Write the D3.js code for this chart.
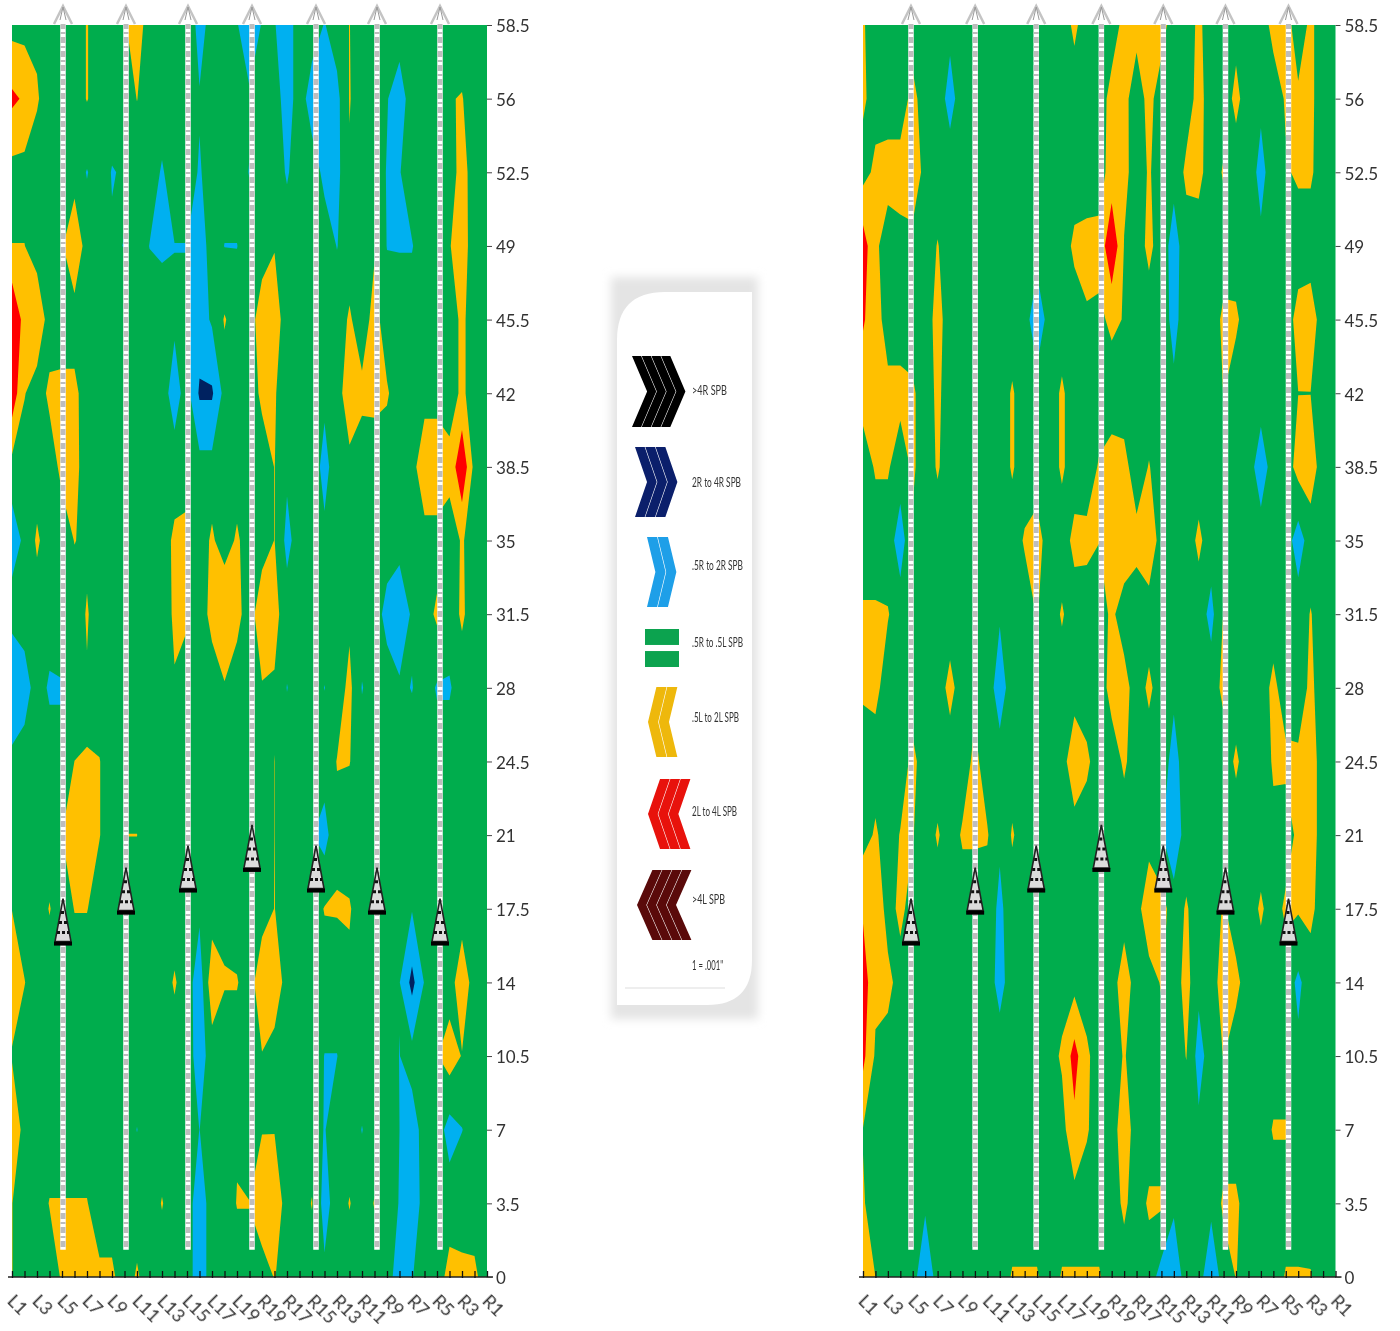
<!DOCTYPE html>
<html><head><meta charset="utf-8">
<script src="https://cdn.jsdelivr.net/npm/d3@7/dist/d3.min.js"></script>
<style>html,body{margin:0;padding:0;background:#fff}svg{display:block}text{font-family:Lato,"Open Sans",sans-serif}</style>
</head><body><svg id="c" width="1400" height="1331"></svg>
<script>
// Row labels (depth) and column labels
const depthLabels = ["58.5","56","52.5","49","45.5","42","38.5","35","31.5","28","24.5","21","17.5","14","10.5","7","3.5","0"];
const leftSide = ["L1","L2","L3","L4","L5","L6","L7","L8","L9","L10","L11","L12","L13","L14","L15","L16","L17","L18","L19"];
const rightSide = ["R19","R18","R17","R16","R15","R14","R13","R12","R11","R10","R9","R8","R7","R6","R5","R4","R3","R2","R1"];
const columnLabels = [...leftSide,"C",...rightSide];

// Readings, [column index, SPB value]; + = left, - = right; unlisted cells are near 0
const leftRows = [
[[2,.3],[6,.55],[9,.4],[10,1],[14,.51],[15,-1],[18,-.4],[19,-1.5],[20,-.4],[21,-.45],[22,-1],[25,-.55],[27,.52]],
[[0,2.3],[1,1.8],[2,.6],[4,.53],[6,.55],[10,.52],[15,-.4],[19,-.3],[22,-1],[24,-1],[25,-1.2],[26,-.8],[27,.55],[30,-.45],[31,-1],[35,.45],[36,.55]],
[[6,-.55],[8,-.55],[9,-.4],[12,-.6],[15,-.6],[19,-.55],[22,-.6],[25,-.75],[26,-.8],[27,.4],[30,-.55],[31,-.55],[36,.9]],
[[0,.52],[1,.52],[4,.4],[5,1.4],[8,-.4],[9,-.52],[11,-.52],[12,-.56],[13,-.52],[14,-.52],[15,-1.1],[17,-.52],[18,-.52],[21,.45],[26,-.53],[29,.4],[30,-.53],[31,-.55],[32,-.55],[35,.45],[36,.95]],
[[0,3.5],[1,1.4],[2,1.35],[12,-.3],[13,-.3],[14,-.3],[15,-1.2],[16,-.3],[17,.58],[20,1.1],[21,1],[27,.62],[29,.85],[36,.7]],
[[0,3],[1,.55],[3,.7],[4,.75],[5,.75],[13,-1],[15,-2.2],[16,-2.2],[20,.7],[21,.58],[25,-.3],[27,1.2],[28,.72],[29,.75],[30,.6],[36,.7]],
[[4,.76],[5,.8],[14,.2],[21,.52],[22,-.3],[25,-.8],[27,.2],[33,1.45],[34,1.45],[35,.85],[36,3.3]],
[[0,-1],[1,-.3],[2,.65],[5,.53],[6,.3],[13,.7],[14,.7],[16,.65],[18,.65],[21,.52],[22,-.8],[25,-.3],[36,.6]],
[[4,.55],[6,.58],[13,.65],[14,.65],[16,.8],[17,1.5],[18,.8],[20,1.25],[21,.8],[27,.31],[30,-.85],[31,-1.5],[32,-.3],[34,.7],[36,.65]],
[[0,-1.9],[1,-1],[3,-.65],[4,-.65],[6,.42],[13,.43],[17,.4],[20,.42],[21,.4],[22,-.53],[25,-.52],[27,.75],[28,-.55],[31,-.3],[32,-.54],[34,-.6],[35,-.6]],
[[0,-.1],[5,.505],[6,.52],[7,.53],[21,.51],[26,.53],[27,.53]],
[[4,.502],[5,.505],[6,.55],[7,.53],[9,.51],[10,.51],[21,.51],[24,-.45],[25,-.9],[26,.3]],
[[0,.48],[3,.55],[5,.53],[6,.53],[7,.1],[15,-.3],[17,.3],[21,.52],[25,.55],[26,.57],[27,.58],[32,-.42]],
[[0,1.2],[1,.53],[4,.55],[13,.6],[15,-1.1],[16,1.2],[17,.56],[18,.56],[20,1.3],[21,1.3],[27,.3],[31,-.45],[32,-2.44],[33,-.4],[36,1.2]],
[[0,.4],[11,-.45],[15,-1],[20,.45],[25,-.52],[26,-.52],[31,-.52],[34,.45],[35,1],[36,.45]],
[[0,1.6],[10,-.52],[15,-.51],[18,.4],[19,-.52],[20,.45],[21,.45],[25,-.55],[28,-.53],[31,-.5],[32,-1.1],[35,-.9],[36,-.53]],
[[0,.52],[3,.54],[4,.54],[5,.54],[6,.54],[12,.55],[15,-1.1],[18,.54],[19,.54],[20,1.2],[21,1.3],[24,.55],[25,-.9],[27,.55],[29,.55],[31,-.55],[32,-1.3],[36,.3]],
[[0,.52],[4,.6],[5,.6],[6,.68],[7,.68],[8,.68],[10,.62],[15,-1.1],[21,.55],[25,-.3],[31,-1.1],[32,-.55],[35,.85],[36,.6],[37,.7]]
];
const rightRows = [
[[0,.6],[7,-.25],[17,.7],[21,.8],[22,.8],[23,.8],[24,.9],[27,.7],[30,.2],[33,.8],[34,.9],[36,.7]],
[[0,.7],[4,.8],[7,-.85],[20,.85],[21,.78],[23,.8],[27,.85],[30,.75],[32,-.3],[34,.6],[35,.66],[36,.7]],
[[1,.8],[2,.9],[3,.9],[4,1.5],[20,1],[21,.8],[23,.6],[25,-.2],[26,.72],[27,.78],[29,.6],[32,-.8],[34,.4],[35,.64],[36,.64]],
[[0,2.8],[1,.7],[3,.2],[6,.55],[17,.7],[18,.8],[19,.85],[20,3.4],[21,.45],[23,.75],[25,-.9],[32,-.3]],
[[0,2.2],[1,1],[6,.85],[14,-1.3],[18,.4],[19,.3],[20,.7],[21,.45],[25,-.8],[29,.7],[30,.66],[35,.85],[36,1]],
[[0,.9],[1,1],[2,.8],[3,.8],[4,.65],[6,.7],[12,.6],[16,.65],[25,-.3],[29,.52],[35,.49],[36,.49]],
[[1,.6],[2,.6],[4,.65],[6,.6],[12,.6],[16,.65],[19,.6],[20,.9],[21,.8],[23,.55],[29,.4],[32,-1.1],[35,.85],[36,1]],
[[3,-1],[4,.35],[13,.6],[14,.9],[17,.78],[18,.75],[19,.52],[20,1.4],[21,1.2],[22,.78],[23,1.3],[27,.7],[35,-1]],
[[0,.62],[1,.62],[2,.56],[11,-.4],[14,.55],[16,.6],[20,.7],[28,-.8],[29,.55],[36,.55]],
[[0,.65],[1,.78],[7,.8],[9,.3],[11,-1],[20,.85],[21,.9],[23,.7],[25,-.3],[29,.75],[33,.75],[36,.7]],
[[4,.75],[9,.75],[11,-.1],[17,1.3],[18,.68],[21,.65],[25,-.85],[30,.65],[33,.6],[34,.72],[35,.67],[36,1]],
[[1,.65],[3,.55],[4,.55],[6,.6],[8,.62],[9,.62],[10,.58],[11,-.35],[12,.6],[24,-.4],[25,-1.25],[33,.3],[35,.75],[36,1]],
[[0,1.8],[1,1.5],[3,.8],[11,-.7],[23,1.4],[24,.9],[26,.6],[29,.6],[32,.65],[34,.7],[35,.6],[36,.75]],
[[0,2.8],[1,.85],[2,.85],[11,-.85],[21,1.1],[24,.6],[26,.85],[27,-.25],[29,1],[30,.75],[35,-.7]],
[[0,2.4],[1,.3],[16,.68],[17,2.6],[18,.68],[21,.58],[26,.53],[27,-.9],[29,.53],[35,-.3]],
[[0,.45],[9,.4],[17,1.6],[18,.6],[21,1.1],[27,-.3],[33,.58],[34,.58]],
[[0,.6],[5,-.3],[9,.55],[21,.7],[23,.65],[24,.65],[25,-.3],[28,-.2],[29,.68],[30,.68]],
[[0,1.1],[1,.5],[5,-1.5],[12,.58],[13,.58],[14,.58],[16,.58],[17,.58],[18,.58],[19,.58],[24,-.9],[25,-1.3],[28,-1.4],[30,.53],[34,.58],[35,.58],[36,.56]]
];
// Contour bands
const leftwardBands = [[.5,"#FFC000"],[2,"#FF0000"],[4,"#7F0000"]];
const rightwardBands = [[.5,"#00B0F0"],[2,"#002060"],[4,"#000000"]];
const fieldColor = "#00AD4E";
// Tracking lanes: column position and the row of each marker's base
const leftLanes = [4.08,9.12,14.08,19.2,24.32,29.2,34.24];
const rightLanes = [3.86,9.02,13.93,19.17,24.15,29.15,34.22];
const markerRows = [12.5,12.08,11.78,11.5,11.78,12.08,12.5];
const laneEndRow = 16.63;
// Legend
const legendItems = [
 {label:">4R SPB",n:4,dir:1,color:"#000000"},
 {label:"2R to 4R SPB",n:3,dir:1,color:"#0B1F6B"},
 {label:".5R to 2R SPB",n:2,dir:1,color:"#1E9FE8"},
 {label:".5R to .5L SPB",n:0,dir:0,color:"#0CA34F"},
 {label:".5L to 2L SPB",n:2,dir:-1,color:"#EEB80C"},
 {label:"2L to 4L SPB",n:3,dir:-1,color:"#E8120C"},
 {label:">4L SPB",n:4,dir:-1,color:"#5A0A0A"}
];
const legendNote = '1 = .001"';
const legendGeom = [[632,356,54,71,390,35],[635,447,43,70,482,49],[647,537,30,70,565,51],[645,629,34,38,642,51],[648,687,30,70,717,47],[648,779,43,70,811,45],[637,870,55,70,899,33]];

const svg = d3.select("#c");
const defs = svg.append("defs");
defs.append("filter").attr("id","soft").attr("x","-2%").attr("y","-2%").attr("width","104%").attr("height","104%")
  .append("feGaussianBlur").attr("stdDeviation",.7);
defs.append("filter").attr("id","softT").append("feGaussianBlur").attr("stdDeviation",.35);
const sh = defs.append("filter").attr("id","shadow").attr("x","-20%").attr("y","-10%").attr("width","140%").attr("height","120%");
sh.append("feGaussianBlur").attr("stdDeviation",5);

function panel(rows, lanes, x0, width, pad, id){
  const x1 = x0+width, yTop=25, yBot=1277;
  const colX = d3.scaleLinear().domain([0,38]).range([x0,x1]);
  const rowY = d3.scaleLinear().domain([0,17]).range([yTop,yBot]);
  const nx=39, ny=18;
  const values = new Array(nx*ny).fill(0);
  rows.forEach((r,k)=>r.forEach(([c,v])=>{values[k*nx+c]=v;}));
  const g = svg.append("g");
  defs.append("clipPath").attr("id","clip"+id).append("rect").attr("x",x0).attr("y",yTop).attr("width",width).attr("height",yBot-yTop);
  const plot = g.append("g").attr("filter","url(#soft)");
  plot.append("rect").attr("x",x0).attr("y",yTop).attr("width",width).attr("height",yBot-yTop).attr("fill",fieldColor);
  const area = plot.append("g").attr("clip-path",`url(#clip${id})`);
  const path = d3.geoPath(d3.geoTransform({point(u,v){this.stream.point(colX(u-.5),rowY(v-.5));}}));
  const contour = d3.contours().size([nx,ny]);
  const draw = (vals,bands)=>bands.forEach(([t,col])=>{
    area.append("path").attr("d",path(contour.contour(vals,t))).attr("fill",col);
  });
  draw(values,leftwardBands);
  draw(values.map(v=>-v),rightwardBands);

  // axes
  const bx = d3.scalePoint().domain(columnLabels).range([x0,x1]);
  const ax = g.append("g").attr("transform",`translate(0,${yBot})`)
    .call(d3.axisBottom(bx).tickSizeInner(4).tickSizeOuter(0).tickFormat((d,i)=>i%2===0?d:""));
  ax.select(".domain").attr("d",`M${x0-4},0H${x1+6}`).attr("stroke","#222").attr("stroke-width",1.3);
  ax.selectAll(".tick line").attr("y1",-6).attr("y2",1).attr("stroke","#111").attr("stroke-width",1.3);
  ax.selectAll(".tick text").attr("font-size",18).attr("fill","#333").attr("text-anchor","start").attr("dy",".35em").attr("y",0)
    .attr("transform","translate(-2,21) rotate(45)").attr("filter","url(#softT)");
  const by = d3.scalePoint().domain(depthLabels).range([yTop,yBot]);
  const ay = g.append("g").attr("transform",`translate(${x1},0)`)
    .call(d3.axisRight(by).tickSize(5).tickPadding(pad));
  ay.select(".domain").remove();
  ay.selectAll(".tick line").attr("stroke","#444");
  ay.selectAll(".tick text").attr("font-size",17).attr("fill","#333").attr("dy",".4em").attr("filter","url(#softT)");

  // tracking lanes
  lanes.forEach((c,i)=>{
    const x=colX(c), l=g.append("g");
    l.append("line").attr("x1",x).attr("x2",x).attr("y1",rowY(0)-2).attr("y2",rowY(laneEndRow)).attr("stroke","#fff").attr("stroke-width",5.5);
    l.append("line").attr("x1",x).attr("x2",x).attr("y1",rowY(0)-2).attr("y2",rowY(laneEndRow)).attr("stroke","#bdbdbd").attr("stroke-width",5).attr("stroke-dasharray","6 3 2 3");
    // open arrow head
    l.append("path").attr("d",`M${x-9},${yTop-1}L${x},${yTop-19}L${x+9},${yTop-1}`).attr("fill","#fff").attr("stroke","#c4c4c4").attr("stroke-width",2.5);
    l.append("path").attr("d",`M${x-3},${yTop-5}L${x},${yTop-18}L${x+3},${yTop-5}`).attr("fill","none").attr("stroke","#999").attr("stroke-width",1);
    // marker
    const b=rowY(markerRows[i]), t=b-47;
    l.append("path").attr("d",`M${x},${t}L${x+8},${b-4}L${x-8},${b-4}Z`).attr("fill","#dcdcdc").attr("stroke","#222").attr("stroke-width",1.6);
    l.append("path").attr("d",`M${x-2},${t+14}L${x+2},${t+14}M${x-4},${t+24}L${x+4},${t+24}M${x-6},${t+34}L${x+6},${t+34}`).attr("stroke","#111").attr("stroke-width",3).attr("stroke-dasharray","3 2");
    l.append("rect").attr("x",x-9).attr("y",b-4).attr("width",18).attr("height",4).attr("fill","#000");
  });
}
panel(leftRows,leftLanes,12,475,4,"L");
panel(rightRows,rightLanes,863,472.5,4,"R");

// legend card
const card = svg.append("g");
const cardPath = "M617,1005V340Q617,292 665,292H752V960Q752,1005 707,1005Z";
card.append("rect").attr("x",611).attr("y",277).attr("width",147).attr("height",742).attr("fill","#e4e4e4").attr("filter","url(#shadow)");
card.append("path").attr("d",cardPath).attr("fill","#fff");
card.append("path").attr("d","M625,988H725").attr("stroke","#ddd");
legendItems.forEach((it,i)=>{
  const [lx,ly,lw,lh,ty,tw]=legendGeom[i];
  const gi=card.append("g");
  if(it.n===0){
    const bh=lh*.42;
    gi.append("rect").attr("x",lx).attr("y",ly).attr("width",lw).attr("height",bh).attr("fill",it.color);
    gi.append("rect").attr("x",lx).attr("y",ly+lh-bh).attr("width",lw).attr("height",bh).attr("fill",it.color);
  } else {
    const point=lw*.28, band=(lw-point)/it.n*.94, gap=(lw-point)/it.n;
    d3.range(it.n).forEach(j=>{
      const m=ly+lh/2,a=lx+j*gap,pts = it.dir>0
        ? [[a,ly],[a+band,ly],[a+band+point,m],[a+band,ly+lh],[a,ly+lh],[a+point,m]]
        : [[a+point,ly],[a+point+band,ly],[a+band,m],[a+point+band,ly+lh],[a+point,ly+lh],[a,m]];
      gi.append("polygon").attr("points",pts.map(p=>p.join(",")).join(" ")).attr("fill",it.color);
    });
  }
  gi.append("text").attr("x",692).attr("y",ty+5).attr("font-size",14).attr("textLength",tw).attr("lengthAdjust","spacingAndGlyphs")
    .attr("fill","#333").attr("filter","url(#softT)").text(it.label);
});
card.append("text").attr("x",692).attr("y",970).attr("font-size",13).attr("textLength",31).attr("lengthAdjust","spacingAndGlyphs").attr("fill","#333").attr("filter","url(#softT)").text(legendNote);
</script></body></html>
